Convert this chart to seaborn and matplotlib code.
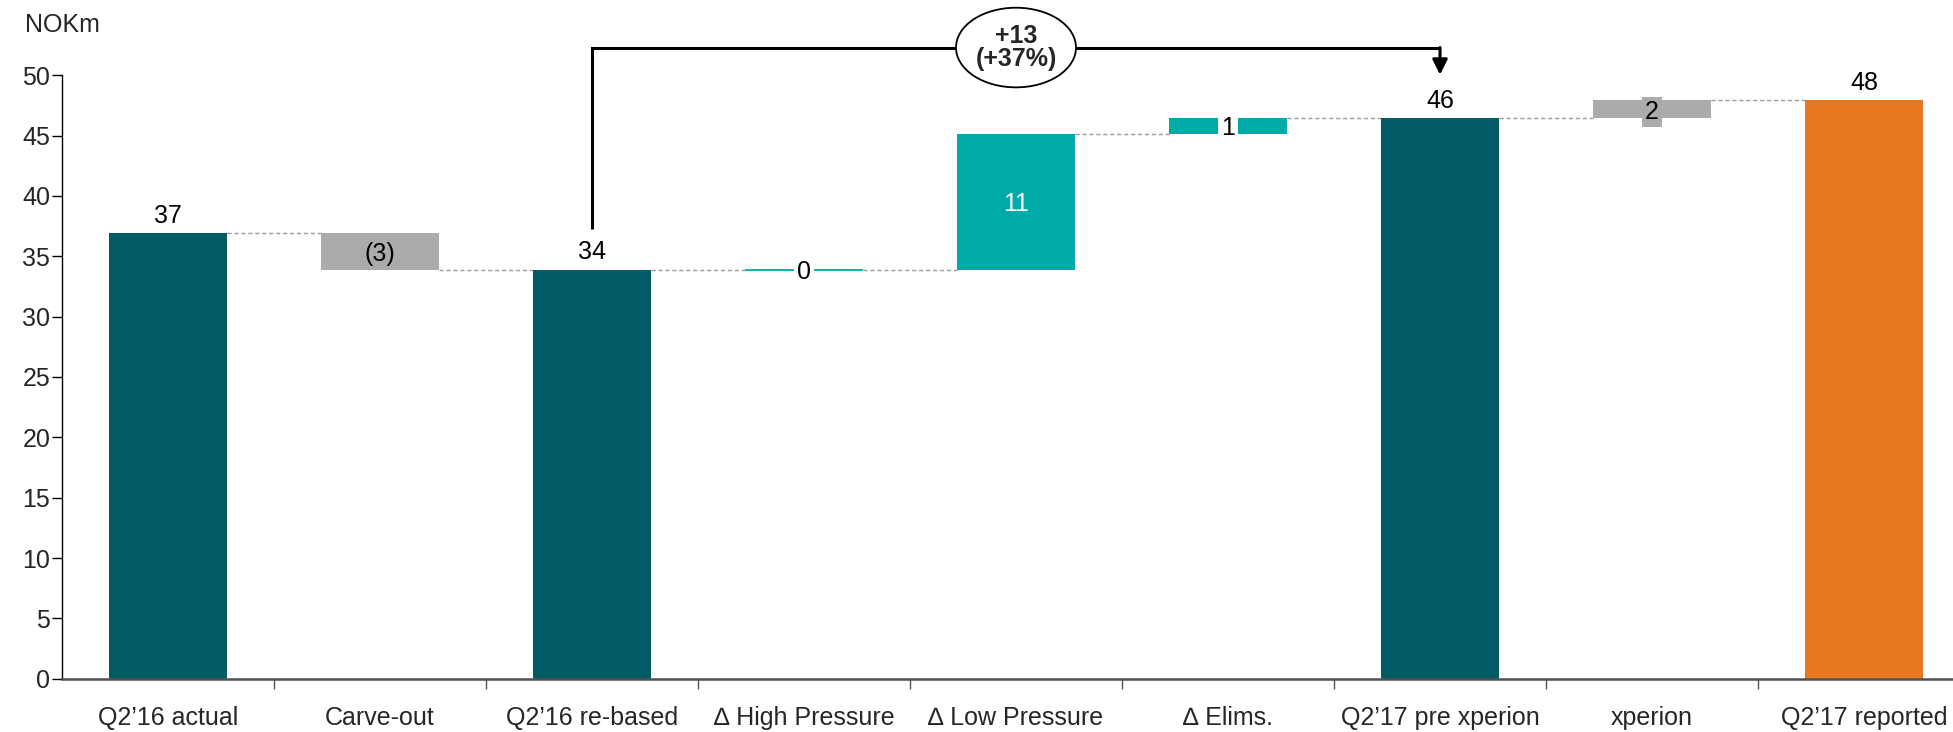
import matplotlib
matplotlib.use("Agg")
import matplotlib.pyplot as plt
from matplotlib.patches import Ellipse
import numpy as np
import pandas as pd
import seaborn as sns

# Bridge steps (NOKm)
categories = ["Q2’16 actual", "Carve-out", "Q2’16 re-based", "∆ High Pressure",
              "∆ Low Pressure", "∆ Elims.", "Q2’17 pre xperion", "xperion",
              "Q2’17 reported"]
step_kind = ["total", "structural", "subtotal", "organic", "organic", "organic",
             "subtotal", "structural", "final"]
step_value = [36.9, -3.0, None, 0.0, 11.25, 1.3, None, 1.5, None]

COLORS = {"total": "#015C65", "subtotal": "#015C65", "organic": "#00AAA8",
          "structural": "#ABABAB", "final": "#E87722"}

sns.set_theme(style="white")
plt.rcParams["font.family"] = ["Liberation Sans", "DejaVu Sans"]
plt.rcParams["font.size"] = 18

# running levels, bar bottoms and heights
levels, bottoms, heights = [], [], []
level = 0.0
for kind, val in zip(step_kind, step_value):
    if val is None:          # subtotal / total bar drawn from zero
        bottoms.append(0.0)
        heights.append(level)
    elif kind == "total":
        level = val
        bottoms.append(0.0)
        heights.append(level)
    else:
        new = level + val
        bottoms.append(min(level, new))
        heights.append(abs(val))
        level = new
    levels.append(level)

face = [COLORS[k] for k in step_kind]
edge = [COLORS[k] if h == 0 else "none" for k, h in zip(step_kind, heights)]

fig = plt.figure(figsize=(19.53, 7.32), dpi=100)
ax = fig.add_axes([62 / 1953, (732 - 678.7) / 732, 1908 / 1953, (678.7 - 75.3) / 732])

df = pd.DataFrame({"category": categories, "height": heights})
bar_w = 0.56
sns.barplot(data=df, x="category", y="height", bottom=bottoms, width=bar_w,
            color=COLORS["total"], saturation=1, facecolor=face, edgecolor=edge,
            linewidth=1.3, errorbar=None, ax=ax, zorder=3)

ax.set_xlim(-0.5, len(categories) - 0.5)
ax.set_ylim(0, 50)
ax.set_xlabel("")
ax.set_ylabel("")

# dashed connectors between consecutive bars
for i in range(len(categories) - 1):
    ax.plot([i + bar_w / 2, i + 1 - bar_w / 2], [levels[i], levels[i]],
            color="#9C9C9C", lw=1.0, ls=(0, (3, 2)), zorder=2)

# value labels
for i, (kind, val) in enumerate(zip(step_kind, step_value)):
    top = bottoms[i] + heights[i]
    if kind in ("total", "subtotal", "final"):
        ax.annotate(f"{levels[i]:.0f}", xy=(i, top), xytext=(0, 7.5),
                    textcoords="offset points", ha="center", va="baseline",
                    fontsize=18, color="black", zorder=6)
        continue
    txt = f"({abs(val):.0f})" if val < 0 else f"{val:.0f}"
    mid = bottoms[i] + heights[i] / 2
    if heights[i] >= 2.5:
        tcolor = "white" if kind == "organic" else "black"
        ax.text(i, mid, txt, ha="center", va="center_baseline", fontsize=18,
                color=tcolor, zorder=6)
    else:
        box = "white" if kind == "organic" else COLORS[kind]
        ax.text(i, mid, txt, ha="center", va="center_baseline", fontsize=18,
                color="black", zorder=6,
                bbox=dict(boxstyle="square,pad=0.12", fc=box, ec="none"))

# growth bracket from re-based Q2'16 to Q2'17 pre xperion
i0, i1 = 2, 6
bracket_y = 52.3
growth = levels[i1] - levels[i0]
pct = growth / levels[i0] * 100
ax.plot([i0, i0, i1], [levels[i0] + 3.4, bracket_y, bracket_y], color="black",
        lw=2.2, solid_joinstyle="miter", solid_capstyle="butt",
        clip_on=False, zorder=5)
ax.annotate("", xy=(i1, levels[i1] + 3.6), xytext=(i1, bracket_y),
            arrowprops=dict(arrowstyle="-|>,head_length=0.5,head_width=0.25",
                            color="black", lw=2.2, mutation_scale=18,
                            shrinkA=0, shrinkB=0),
            annotation_clip=False, zorder=5)
xc = (i0 + i1) / 2
ax.add_patch(Ellipse((xc, bracket_y), width=0.566, height=6.6, facecolor="white",
                     edgecolor="black", lw=1.3, clip_on=False, zorder=7))
ax.text(xc, bracket_y, f"+{growth:.0f}\n(+{pct:.0f}%)", ha="center",
        va="center", fontsize=18, fontweight="bold", linespacing=0.92,
        zorder=8)

# axes styling
sns.despine(ax=ax, top=True, right=True)
ax.spines["left"].set_color("black")
ax.spines["left"].set_linewidth(1.0)
ax.spines["bottom"].set_color("#505050")
ax.spines["bottom"].set_linewidth(1.8)
ax.spines["bottom"].set_zorder(4)

ax.set_yticks(np.arange(0, 51, 5))
ax.tick_params(axis="y", which="major", direction="out", length=7, width=1,
               color="black", pad=1.5, labelsize=18, left=True)
ax.set_xticks(range(len(categories)))
ax.set_xticklabels(categories)
ax.set_xticks(np.arange(0.5, len(categories) - 1, 1.0), minor=True)
ax.tick_params(axis="x", which="major", length=0, pad=20, labelsize=18,
               bottom=True)
ax.tick_params(axis="x", which="minor", direction="out", length=7, width=1,
               color="#505050", bottom=True)

fig.text(25 / 1953, 1 - 25 / 732, "NOKm", ha="left", va="center", fontsize=18)

fig.savefig("out.png", dpi=100)
